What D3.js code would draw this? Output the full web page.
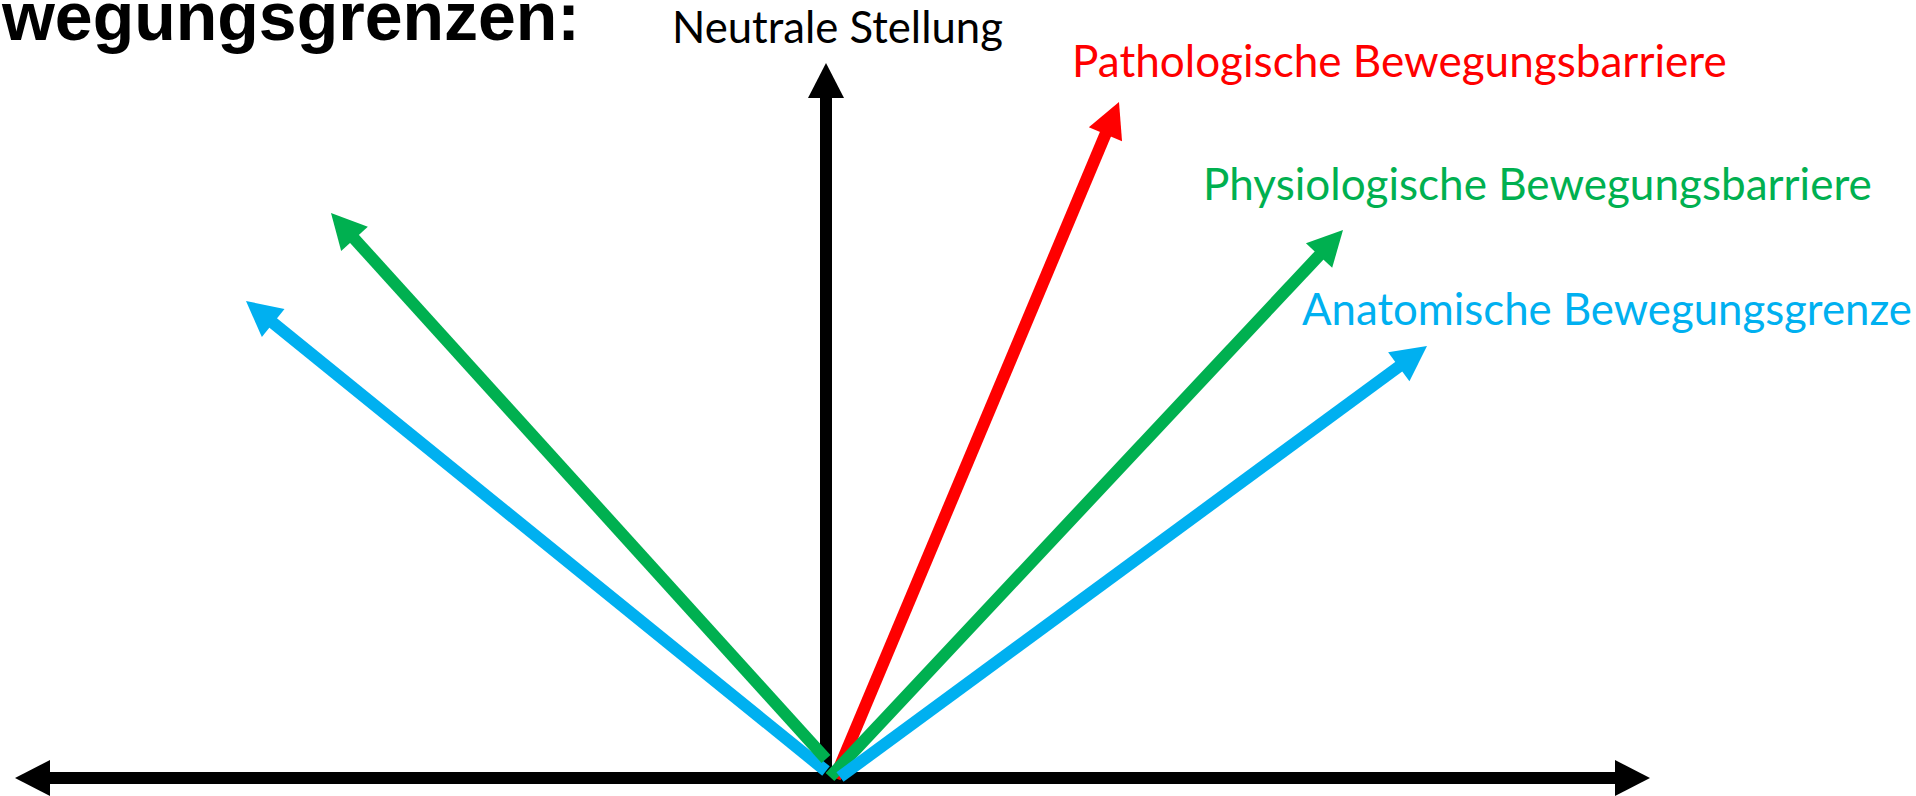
<!DOCTYPE html>
<html>
<head>
<meta charset="utf-8">
<script src="https://cdn.jsdelivr.net/npm/d3@7"></script>
<style>
  html, body { margin: 0; padding: 0; background: #fff; overflow: hidden; }
  svg { display: block; }
  .label { font-family: Lato, "Open Sans", sans-serif; }
  .title { font-family: "Liberation Sans", Arial, sans-serif; font-weight: bold; }
</style>
</head>
<body>
<svg width="1916" height="796"></svg>
<script>
// arrows, in diagram units: common origin at (0,0), y pointing up
var arrowKind = ["achse", "achse", "neutral", "anatomisch", "physiologisch", "pathologisch", "physiologisch", "anatomisch"],
    startX = [0, 0, 0, 0, 0, 9, 4, 14],
    startY = [0, 0, 0, 7, 19, 0, 1, 1],
    tipX = [-811, 824, 0, -580, -495, 293, 517, 601],
    tipY = [0, 0, 715, 477, 565, 676, 548, 432];

// labels
var labelText = ["Neutrale Stellung", "Pathologische Bewegungsbarriere", "Physiologische Bewegungsbarriere", "Anatomische Bewegungsgrenze"],
    labelKind = ["neutral", "pathologisch", "physiologisch", "anatomisch"],
    labelX = [-154, 246, 377, 476],
    labelY = [735, 701, 578, 453],
    labelWidth = [331, 655, 669, 610];

var titleText = "wegungsgrenzen:";

var svg = d3.select("svg"),
    width = +svg.attr("width"),
    height = +svg.attr("height");

var x = d3.scaleLinear()
    .domain([-826, 1090])
    .range([0, width]);
var y = d3.scaleLinear()
    .domain([-18, 778])
    .range([height, 0]);

var color = d3.scaleOrdinal()
    .domain(["achse", "neutral", "pathologisch", "physiologisch", "anatomisch"])
    .range(["#000000", "#000000", "#ff0000", "#00b050", "#00b0f0"]);

var shaft = 12, headLen = 35, headHalf = 18;

var arrows = d3.range(arrowKind.length).map(function(i) {
  var sx = x(startX[i]), sy = y(startY[i]),
      tx = x(tipX[i]), ty = y(tipY[i]),
      dx = tx - sx, dy = ty - sy,
      len = Math.sqrt(dx * dx + dy * dy),
      ux = dx / len, uy = dy / len,
      nx = -uy, ny = ux,
      bx = tx - headLen * ux, by = ty - headLen * uy;
  return {
    kind: arrowKind[i],
    line: [[sx, sy], [bx + 2 * ux, by + 2 * uy]],
    head: [[tx, ty], [bx + headHalf * nx, by + headHalf * ny], [bx - headHalf * nx, by - headHalf * ny]]
  };
});

var g = svg.append("g");

var a = g.selectAll(".arrow")
    .data(arrows)
  .enter().append("g")
    .attr("class", "arrow");

a.append("path")
    .attr("d", function(d) { return d3.line()(d.line); })
    .style("stroke", function(d) { return color(d.kind); })
    .style("stroke-width", shaft)
    .style("fill", "none");

a.append("path")
    .attr("d", function(d) { return d3.line()(d.head) + "Z"; })
    .style("fill", function(d) { return color(d.kind); });

// labels, font size fitted so the text runs over its width
g.selectAll(".label")
    .data(labelText)
  .enter().append("text")
    .attr("class", "label")
    .attr("x", function(d, i) { return x(labelX[i]); })
    .attr("y", function(d, i) { return y(labelY[i]); })
    .style("fill", function(d, i) { return color(labelKind[i]); })
    .style("font-size", "40px")
    .text(function(d) { return d; })
    .each(function(d, i) {
      var w = this.getComputedTextLength();
      d3.select(this).style("font-size", (40 * labelWidth[i] / w) + "px");
    });

svg.append("text")
    .attr("class", "title")
    .attr("x", 580)
    .attr("y", 40)
    .attr("text-anchor", "end")
    .style("font-size", "68px")
    .text(titleText);
</script>
</body>
</html>
